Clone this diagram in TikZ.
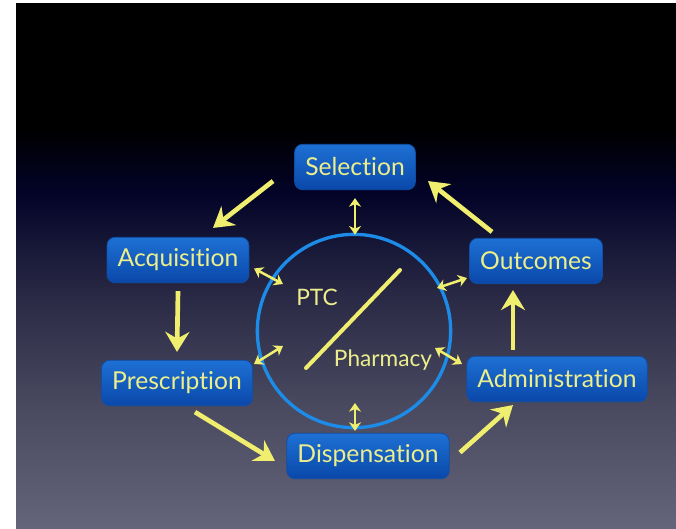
\documentclass[tikz,border=0pt]{standalone}
\usepackage{fontspec}
\setmainfont{Lato}[Ligatures=NoCommon]
\usepackage{xcolor}
\usetikzlibrary{arrows.meta}

\definecolor{bgbot}{RGB}{100,100,122}
\definecolor{bglow}{RGB}{72,72,95}
\definecolor{bgmid}{RGB}{42,42,70}
\definecolor{bgnavy}{RGB}{3,3,40}
\definecolor{boxtop}{RGB}{30,112,212}
\definecolor{boxbot}{RGB}{10,72,170}
\definecolor{boxline}{RGB}{14,80,168}
\definecolor{txt}{RGB}{236,238,140}
\definecolor{arr}{RGB}{240,238,110}
\definecolor{ringblue}{RGB}{28,140,232}

\pgfdeclareverticalshading{slidebg}{100bp}{color(0bp)=(bgbot); color(25bp)=(bgbot); color(37bp)=(bglow); color(47bp)=(bgmid); color(57bp)=(bgnavy); color(63bp)=(black); color(100bp)=(black)}

\begin{document}
\begin{tikzpicture}[x=0.75pt,y=-0.75pt,
	stage/.style={draw=boxline, line width=0.6pt, rounded corners=6pt, top color=boxtop, bottom color=boxbot, text=txt, font=\fontsize{18.5}{21}\selectfont, minimum height=34pt, inner xsep=8pt},
	flow/.style={draw=arr, line width=3.5pt, -{Stealth[length=15pt,width=18pt,inset=5pt]}},
	link/.style={draw=arr, line width=1.9pt, {Stealth[length=6.5pt,width=9pt,inset=2pt]}-{Stealth[length=6.5pt,width=9pt,inset=2pt]}},
	ring/.style={circle, draw=ringblue, line width=2.5pt, minimum size=145pt, inner sep=0pt},
	tag/.style={text=txt, font=\fontsize{17}{19}\selectfont}]
			\fill[white] (0,0) rectangle (676,529);
			\shade[shading=slidebg] (16,3) rectangle (676,529);
			\node (sel) [stage] at (355,167) {Selection}
			node (acq) [stage] at (178,260) {Acquisition}
			node (pre) [stage] at (177,383) {Prescription}
			node (dis) [stage] at (368,456) {Dispensation}
			node (adm) [stage] at (557,379) {Administration}
			node (out) [stage] at (536,261) {Outcomes}
			node (ring) [ring] at (354,331) {}
			node (ptc) [tag] at (317,297) {PTC}
			node (pha) [tag] at (383,360) {Pharmacy};
			% cycle
			\draw[flow] ([shift={(-82,-9)}]sel.south) -- ([shift={(35,-9)}]acq.north);
			\draw[flow] ([yshift=-6pt]acq.south) -- ([yshift=6pt]pre.north);
			\draw[flow] ([shift={(18,6)}]pre.south) -- ([shift={(-93,5)}]dis.center);
			\draw[flow] ([shift={(92,-3.5)}]dis.center) -- ([shift={(-44,3)}]adm.south);
			\draw[flow] ([shift={(-44,-6)}]adm.north) -- ([shift={(-23,6)}]out.south);
			\draw[flow] ([shift={(-44,-6)}]out.north) -- ([shift={(73,-9)}]sel.south);
			% links to the committee
			\draw[link] ([yshift=-6pt]sel.south) -- ([shift={(1,2)}]ring.north);
			\draw[link] ([shift={(76,8.5)}]acq.center) -- ([shift={(-71,-47)}]ring.center);
			\draw[link] ([shift={(77,-19)}]pre.center) -- ([shift={(-71,15)}]ring.center);
			\draw[link] ([shift={(1,72)}]ring.center) -- ([shift={(-13,-2)}]dis.north);
			\draw[link] ([shift={(83,-43)}]ring.center) -- ([shift={(-69,17)}]out.center);
			\draw[link] ([shift={(81,17)}]ring.center) -- ([shift={(-95,-15)}]adm.center);
			\draw[arr, line width=3pt, line cap=round] ([shift={(-48,37)}]ring.center) -- ([shift={(46,-61)}]ring.center);
\end{tikzpicture}
\end{document}
